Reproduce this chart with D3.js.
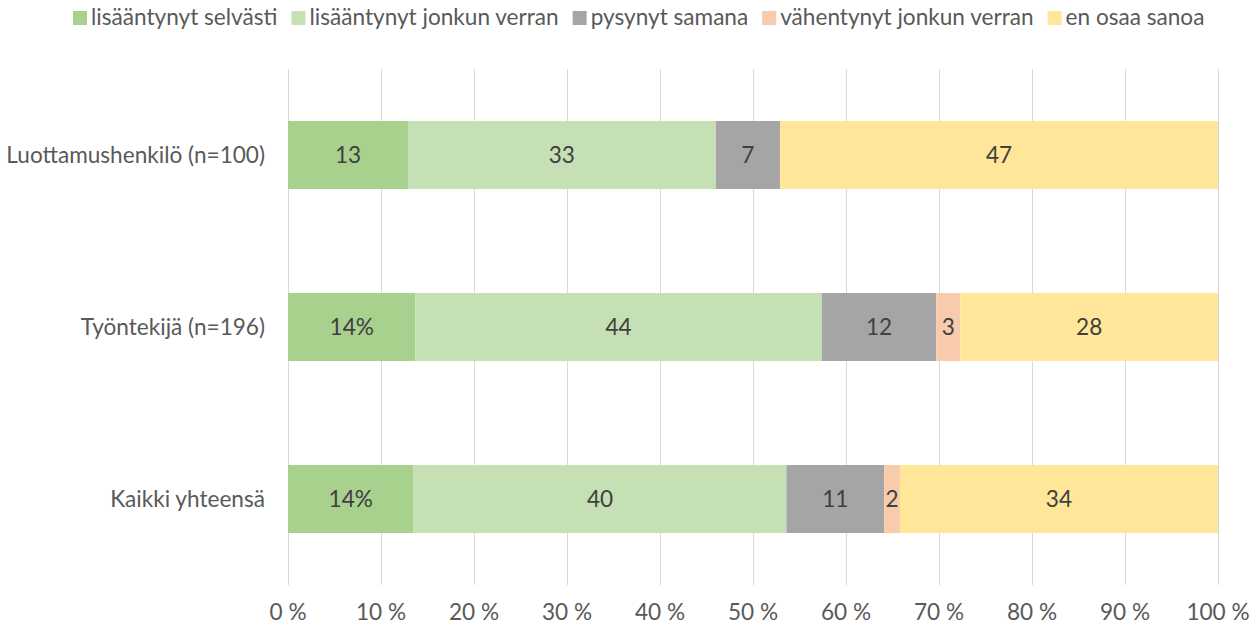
<!DOCTYPE html>
<html lang="fi">
<head>
<meta charset="UTF-8" />
<title>Pinottu palkkikaavio</title>
<script src="https://d3js.org/d3.v7.min.js"></script>
<style>
  body { margin: 0; background: #fff; }
  svg text { font-family: Lato, "Open Sans", sans-serif; }
</style>
</head>
<body>
<div id="chart"></div>
<script>
// ryhmät (ylhäältä alas)
const categories = ['Luottamushenkilö (n=100)', 'Työntekijä (n=196)', 'Kaikki yhteensä'];
const seriesNames = ['lisääntynyt selvästi', 'lisääntynyt jonkun verran', 'pysynyt samana', 'vähentynyt jonkun verran', 'en osaa sanoa'];
const seriesColors = ['#a9d18e', '#c5e0b4', '#a5a5a5', '#f8cbad', '#ffe699'];

// osuudet prosentteina, luettu kuvasta
const selvasti = [12.9, 13.7, 13.5];
const jonkun = [33.1, 43.7, 40.1];
const samana = [6.9, 12.3, 10.5];
const vahentynyt = [0, 2.6, 1.7];
const eos = [47.1, 27.7, 34.2];

// palkkien tekstit sellaisenaan
const selvastiLabels = ['13', '14%', '14%'];
const jonkunLabels = ['33', '44', '40'];
const samanaLabels = ['7', '12', '11'];
const vahentynytLabels = ['', '3', '2'];
const eosLabels = ['47', '28', '34'];

const xTicks = [0, 10, 20, 30, 40, 50, 60, 70, 80, 90, 100];

const seriesValues = [selvasti, jonkun, samana, vahentynyt, eos];
const seriesLabels = [selvastiLabels, jonkunLabels, samanaLabels, vahentynytLabels, eosLabels];

const width = 1258, height = 630;
const fs = 22.6;
const svg = d3.select('#chart').append('svg').attr('width', width).attr('height', height);

const x = d3.scaleLinear().domain([0, 100]).range([288, 1218]);
const pad = 1 - 68 / 172;
const y = d3.scaleBand().domain(categories).range([69, 585]).paddingInner(pad).paddingOuter(pad / 2);

// pystyviivat
svg.append('g').selectAll('line').data(xTicks).join('line')
  .attr('x1', d => Math.round(x(d)) + 0.5).attr('x2', d => Math.round(x(d)) + 0.5)
  .attr('y1', 69).attr('y2', 585)
  .attr('stroke', '#d9d9d9').attr('stroke-width', 1);

// x-akselin tekstit
svg.append('g').selectAll('text').data(xTicks).join('text')
  .attr('x', d => x(d)).attr('y', 620)
  .attr('text-anchor', 'middle')
  .attr('font-size', fs).attr('fill', '#595959')
  .text(d => d + ' %');

// pinotaan sarjat
const rows = [];
categories.forEach((cat, i) => {
  let acc = 0;
  seriesValues.forEach((vals, s) => {
    rows.push({ cat, s, x0: acc, x1: acc + vals[i], label: seriesLabels[s][i] });
    acc += vals[i];
  });
});

svg.append('g').selectAll('rect').data(rows.filter(d => d.x1 > d.x0)).join('rect')
  .attr('x', d => x(d.x0)).attr('width', d => x(d.x1) - x(d.x0))
  .attr('y', d => y(d.cat)).attr('height', y.bandwidth())
  .attr('fill', d => seriesColors[d.s]);

svg.append('g').selectAll('text').data(rows.filter(d => d.label !== '')).join('text')
  .attr('x', d => x((d.x0 + d.x1) / 2))
  .attr('y', d => y(d.cat) + y.bandwidth() / 2)
  .attr('dy', '0.36em')
  .attr('text-anchor', 'middle')
  .attr('font-size', fs).attr('fill', '#404040')
  .text(d => d.label);

// ryhmien nimet
svg.append('g').selectAll('text').data(categories).join('text')
  .attr('x', 265)
  .attr('y', d => y(d) + y.bandwidth() / 2)
  .attr('dy', '0.36em')
  .attr('text-anchor', 'end')
  .attr('font-size', fs).attr('fill', '#595959')
  .text(d => d);

// selite ylhäällä keskellä
const legend = svg.append('g');
const items = legend.selectAll('g').data(seriesNames).join('g');
items.append('rect').attr('width', 14).attr('height', 14).attr('y', 11)
  .attr('fill', (d, i) => seriesColors[i]);
items.append('text').attr('x', 18).attr('y', 25)
  .attr('font-size', fs).attr('fill', '#595959')
  .text(d => d);
const gap = 14;
let lx = 0;
items.each(function () {
  const g = d3.select(this);
  g.attr('transform', `translate(${lx},0)`);
  lx += 18 + g.select('text').node().getComputedTextLength() + gap;
});
lx -= gap;
legend.attr('transform', `translate(${Math.round(639 - lx / 2)},0)`);
</script>
</body>
</html>
